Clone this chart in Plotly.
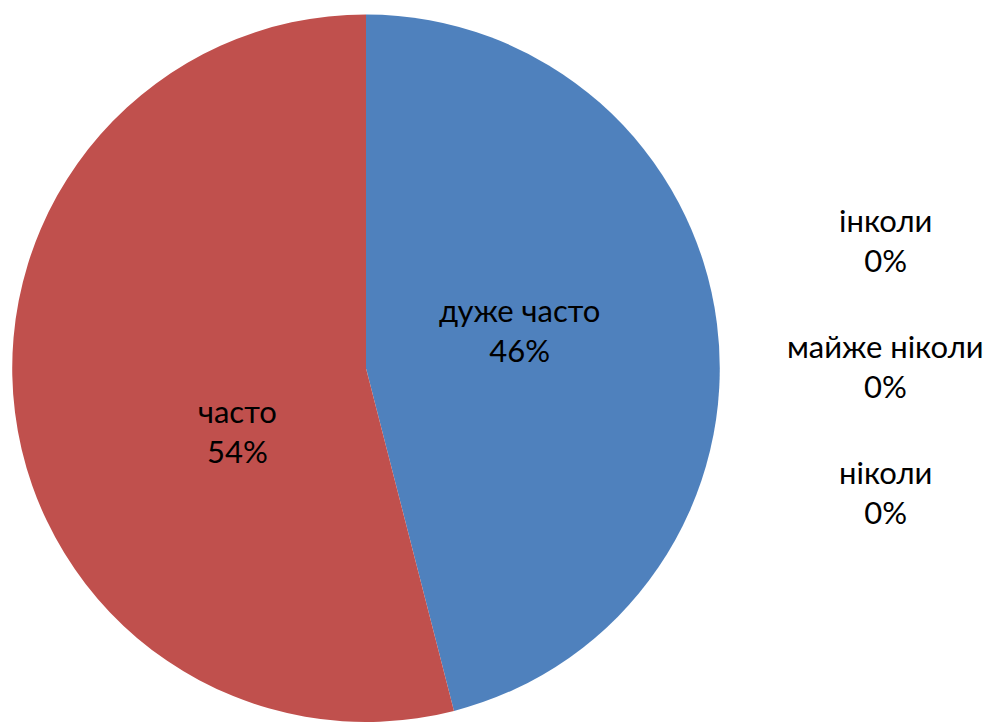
import plotly.graph_objects as go

labels = ["дуже часто", "часто", "інколи", "майже ніколи", "ніколи"]
values = [46, 54, 0, 0, 0]
colors = ["#4F81BD", "#C0504D", "#9BBB59", "#8064A2", "#4BACC6"]

FONT = "Lato"
FSIZE = 31

# label placement (paper coords) for non-zero slices, as laid out in the original
inside_pos = {"дуже часто": (0.519, 0.543), "часто": (0.237, 0.403)}

fig = go.Figure(go.Pie(
    labels=labels,
    values=values,
    textinfo="none",
    sort=False,
    direction="clockwise",
    rotation=0,
    marker=dict(colors=colors, line=dict(width=0)),
    domain=dict(x=[0.012, 0.72], y=[0.0, 0.98]),
    showlegend=False,
))

annotations = []
for l, v in zip(labels, values):
    if v > 0:
        x, y = inside_pos[l]
        annotations.append(dict(
            x=x, y=y, xref="paper", yref="paper",
            text=f"{l}<br>{v}%", showarrow=False,
            xanchor="center", yanchor="middle",
            font=dict(family=FONT, size=FSIZE, color="black"),
        ))

zero_items = [(l, v) for l, v in zip(labels, values) if v == 0]
y0, step = 0.668, 0.1745
for i, (l, v) in enumerate(zero_items):
    annotations.append(dict(
        x=0.885, y=y0 - i * step, xref="paper", yref="paper",
        text=f"{l}<br>{v}%", showarrow=False,
        xanchor="center", yanchor="middle",
        font=dict(family=FONT, size=FSIZE, color="black"),
    ))

fig.update_layout(
    width=1000, height=722,
    margin=dict(l=0, r=0, t=0, b=0),
    paper_bgcolor="white", plot_bgcolor="white",
    annotations=annotations,
)

fig.write_html("out.html", config={"displayModeBar": False},
               post_script="document.body.style.margin='0';")
